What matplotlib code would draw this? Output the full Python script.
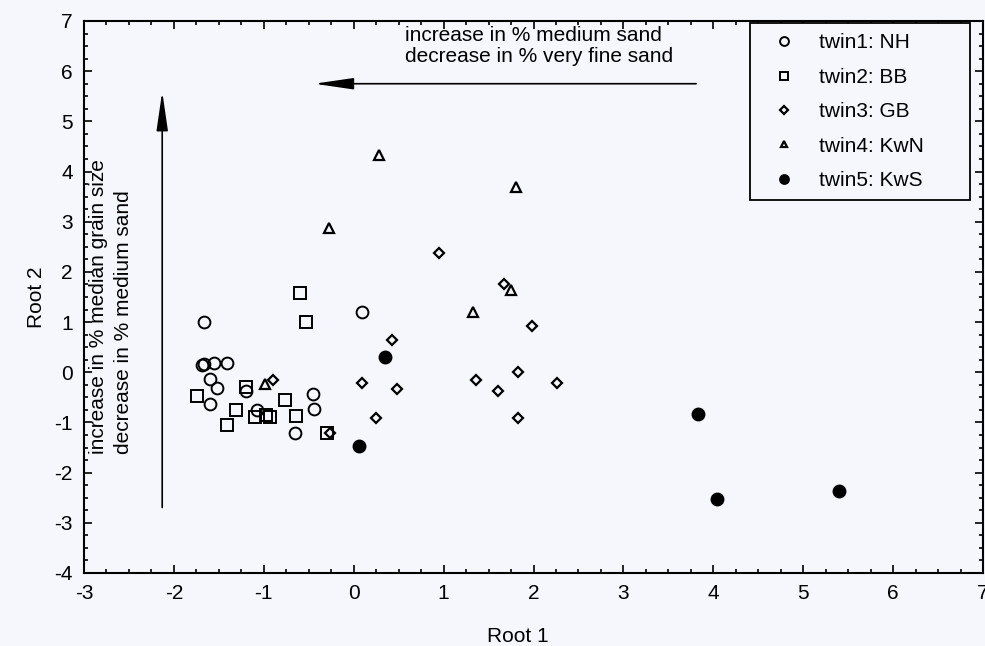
import matplotlib
matplotlib.use("Agg")
import matplotlib.pyplot as plt
from matplotlib.ticker import MultipleLocator

plt.rcParams["font.family"] = ["Liberation Sans", "DejaVu Sans"]
plt.rcParams["axes.unicode_minus"] = False

# twin1: NH (open circles)
nh_x = [-1.67, -1.69, -1.66, -1.55, -1.41, -1.60, -1.52, -1.60, -1.20, -1.08, -0.45, -0.44, -0.65, 0.09]
nh_y = [1.00, 0.14, 0.16, 0.18, 0.18, -0.13, -0.31, -0.64, -0.37, -0.76, -0.44, -0.73, -1.22, 1.21]
# twin2: BB (open squares)
bb_x = [-0.60, -0.53, -1.20, -1.74, -1.31, -1.41, -1.10, -0.97, -0.93, -0.76, -0.64, -0.30]
bb_y = [1.57, 1.00, -0.29, -0.48, -0.75, -1.06, -0.89, -0.86, -0.89, -0.56, -0.88, -1.22]
# twin3: GB (small diamonds)
gb_x = [-0.90, 0.09, -0.26, 0.43, 0.48, 0.25, 1.36, 1.60, 1.83, 2.26, 1.83, 1.98, 1.67, 0.95]
gb_y = [-0.16, -0.21, -1.22, 0.64, -0.33, -0.91, -0.16, -0.38, 0.00, -0.21, -0.91, 0.93, 1.75, 2.37]
# twin4: KwN (triangles)
kwn_x = [-0.99, 0.28, 1.80, -0.28, 1.33, 1.75]
kwn_y = [-0.23, 4.33, 3.69, 2.87, 1.21, 1.63]
# twin5: KwS (filled circles)
kws_x = [0.35, 0.06, 3.83, 4.04, 5.40]
kws_y = [0.30, -1.47, -0.83, -2.53, -2.37]

bg = "#f6f7fc"
fig = plt.figure(figsize=(9.85, 6.46), dpi=100, facecolor=bg)
ax = fig.add_axes([84 / 985, 73 / 646, 899 / 985, 552 / 646], facecolor=bg)

ax.plot(nh_x, nh_y, "o", ms=8.5, mfc="none", mec="black", mew=1.4, label="twin1: NH")
ax.plot(bb_x, bb_y, "s", ms=8, mfc="none", mec="black", mew=1.4, label="twin2: BB")
ax.plot(gb_x, gb_y, "D", ms=5, mfc="none", mec="black", mew=1.6, label="twin3: GB")
ax.plot(kwn_x, kwn_y, "^", ms=6.5, mfc="none", mec="black", mew=1.6, label="twin4: KwN")
ax.plot(kws_x, kws_y, "o", ms=9, mfc="black", mec="black", label="twin5: KwS")

ax.set_xlim(-3, 7)
ax.set_ylim(-4, 7)
ax.xaxis.set_major_locator(MultipleLocator(1))
ax.xaxis.set_minor_locator(MultipleLocator(0.25))
ax.yaxis.set_major_locator(MultipleLocator(1))
ax.yaxis.set_minor_locator(MultipleLocator(0.25))
ax.tick_params(which="both", direction="in", top=True, right=True, labelsize=15, width=1.2)
ax.tick_params(which="major", length=6, pad=8)
ax.tick_params(which="minor", length=3)
for s in ax.spines.values():
    s.set_linewidth(1.5)

ax.set_xlabel("Root 1", fontsize=15, labelpad=17)
ax.xaxis.label.set_x(0.483)
ax.set_ylabel("Root 2", fontsize=15, labelpad=6)

# direction arrows
head = "-|>,head_length=2.4,head_width=0.35"
ax.annotate("", xy=(-2.13, 5.65), xytext=(-2.13, -2.75),
            arrowprops=dict(arrowstyle=head, color="black", lw=1.2))
ax.annotate("", xy=(-0.47, 5.75), xytext=(3.84, 5.75),
            arrowprops=dict(arrowstyle=head, color="black", lw=1.2))

ax.text(0.57, 6.90, "increase in % medium sand\ndecrease in % very fine sand",
        fontsize=15, ha="left", va="top", linespacing=1.15)
ax.text(-2.70, -1.62, "increase in % median grain size\ndecrease in % medium sand",
        fontsize=15, rotation=90, ha="center", va="bottom", multialignment="left", linespacing=1.45)

leg = ax.legend(loc="upper left", bbox_to_anchor=(0.7408, 0.6, 0.2447, 0.3964), mode="expand",
                fontsize=15, frameon=True, fancybox=False, framealpha=1, edgecolor="black",
                handlelength=2.3, handletextpad=0.5, borderpad=0.5, labelspacing=0.74,
                markerscale=0.75, borderaxespad=0)
leg.get_frame().set_linewidth(1.3)
leg.get_frame().set_facecolor(bg)

fig.savefig("out.png", dpi=100, facecolor=bg)
